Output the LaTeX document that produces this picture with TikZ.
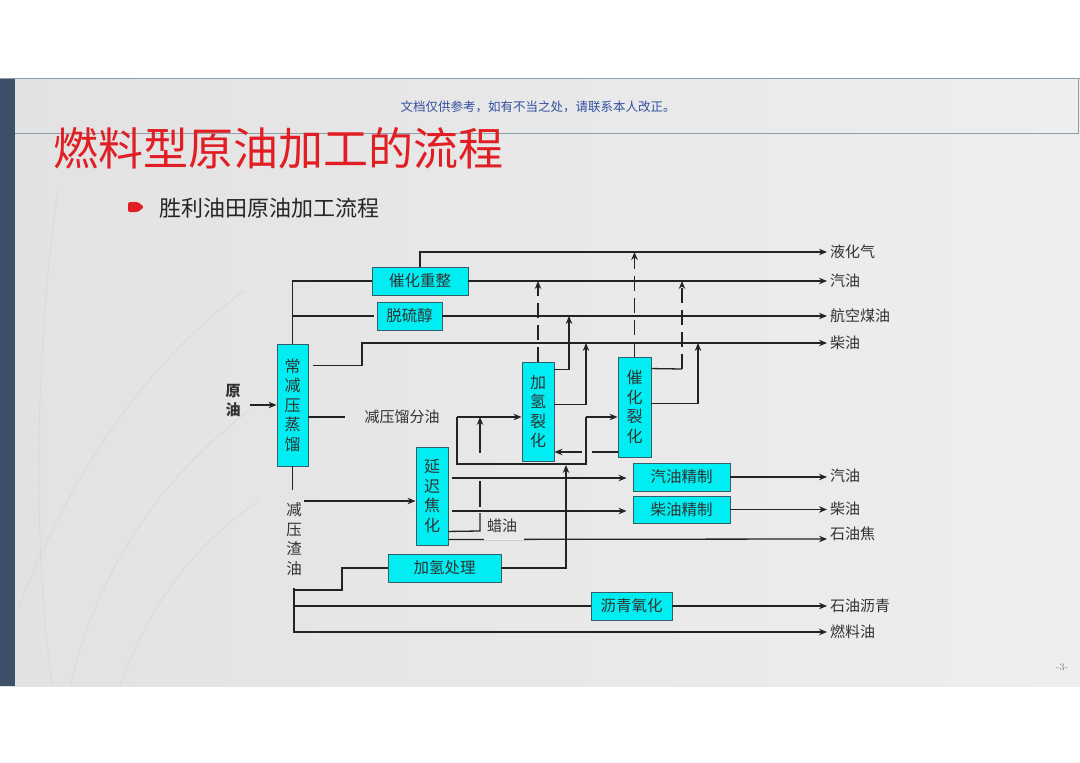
\documentclass[tikz,border=0pt]{standalone}
\usepackage{fontspec}
\newfontfamily\cjk{Noto Sans CJK SC}
\usetikzlibrary{arrows.meta,calc}
\definecolor{bxf}{RGB}{0,238,242}
\definecolor{bxb}{RGB}{50,95,105}
\definecolor{lnc}{RGB}{35,35,35}
\definecolor{txt}{RGB}{50,50,50}
\definecolor{ttl}{RGB}{225,30,35}
\definecolor{wm}{RGB}{50,80,160}
\definecolor{barc}{RGB}{62,80,104}
\definecolor{hdr}{RGB}{140,158,170}
\definecolor{bgl}{RGB}{226,226,226}
\definecolor{bgm}{RGB}{248,248,248}
\definecolor{bgr}{RGB}{238,238,238}
\begin{document}
\begin{tikzpicture}[x=1pt,y=-1pt,
  box/.style={draw=bxb, fill=bxf, line width=0.9pt, inner sep=0pt, text=txt, font=\cjk\fontsize{15.5}{19}\selectfont},
  vbox/.style={box, align=center, font=\cjk\fontsize{16}{19.5}\selectfont},
  ln/.style={draw=lnc, line width=1.3pt},
  arr/.style={ln, -{Stealth[length=8pt,width=6.5pt]}},
  dsh/.style={dash pattern=on 15pt off 7pt},
  lab/.style={text=txt, font=\cjk\fontsize{15}{18}\selectfont, inner sep=1pt},
  outlbl/.style={lab, anchor=west},
  decor/.style={draw=gray!30, line width=0.8pt}]
% background
\fill[white] (0,0) rectangle (1080,763);
\useasboundingbox (0,0) rectangle (1080,763);
\shade[left color=bgl, middle color=bgm, right color=bgr] (0,78) rectangle (1080,686);
\draw[decor] (58,190) .. controls (38,330) and (30,520) .. (52,686);
\draw[decor] (18,610) .. controls (70,470) and (150,360) .. (245,290);
\draw[decor] (70,686) .. controls (100,560) and (170,470) .. (250,410);
\draw[decor] (120,686) .. controls (150,600) and (200,540) .. (260,500);
\fill[barc] (0,78) rectangle (15,686);
\draw[hdr, line width=1pt] (0,78) -- (1080,78);
\draw[hdr, line width=1pt] (15,133) -- (1078,133) -- (1078,78);
% header texts
\node[text=wm, font=\cjk\fontsize{12.5}{14}\selectfont] (wmk) at (538,107) {文档仅供参考，如有不当之处，请联系本人改正。};
\node[anchor=west, text=ttl, inner sep=0pt, font=\cjk\fontsize{45}{50}\selectfont] (title) at (53,148) {燃料型原油加工的流程};
\fill[ttl, rounded corners=1.5pt] (128,202) -- (138,202) -- (144,207) -- (138,212) -- (128,212) -- cycle;
\node[anchor=west, text=black!85, inner sep=0pt, font=\cjk\fontsize{22}{24}\selectfont] (sub) at (159,208) {胜利油田原油加工流程};
\node[text=gray, font=\fontsize{10}{12}\selectfont] (pg) at (1062,667) {-3-};
% boxes
\node[vbox, minimum width=31pt, minimum height=122pt] (zl) at (292.5,405) {常\\减\\压\\蒸\\馏};
\node[box, minimum width=96pt, minimum height=28pt] (czz) at (420,281) {催化重整};
\node[box, minimum width=65pt, minimum height=28pt] (tlc) at (409.5,316) {脱硫醇};
\node[vbox, minimum width=32pt, minimum height=99pt] (jql) at (538,411.5) {加\\氢\\裂\\化};
\node[vbox, minimum width=33pt, minimum height=100pt] (chl) at (634.5,407) {催\\化\\裂\\化};
\node[vbox, minimum width=32pt, minimum height=98pt] (ycj) at (432,496) {延\\迟\\焦\\化};
\node[box, minimum width=113pt, minimum height=28pt] (jqc) at (444.5,568) {加氢处理};
\node[box, minimum width=97pt, minimum height=28pt] (qyj) at (681.5,477) {汽油精制};
\node[box, minimum width=97pt, minimum height=27pt] (cyj) at (681.5,509.5) {柴油精制};
\node[box, minimum width=81pt, minimum height=28pt] (lqy) at (631.5,606) {沥青氧化};
% end coordinates
\coordinate (e1) at (827,252);
\coordinate (e2) at (827,281);
\coordinate (e3) at (827,316);
\coordinate (e4) at (827,343);
\coordinate (e5) at (827,477);
\coordinate (e6) at (827,509.5);
\coordinate (e7) at (827,539);
\coordinate (e8) at (827,606);
\coordinate (e9) at (827,632);
% top outputs
\draw[arr] (czz.north) |- (e1);
\draw[ln] (zl.north) |- (czz.west);
\draw[arr] (czz.east) -- (e2);
\draw[ln] (zl.north |- tlc.west) -- ([xshift=-3pt]tlc.west);
\draw[arr] (tlc.east) -- (e3);
\draw[arr] ($(zl.north east)+(5,22)$) -| (362,343) -- (e4);
% vacuum distillate
\draw[ln] ($(zl.east)+(0,12)$) -- ++(37,0);
\node[lab] (jyl) at (402,417) {减压馏分油};
\coordinate (la) at (457,417);
\coordinate (lb) at (457,464);
\coordinate (lc) at (586,464);
\coordinate (ld) at (586,417);
\draw[ln] (la) -- (lb) -- (lc) -- (ld);
\draw[arr] (la) -- (la -| jql.west);
\draw[arr] (ld) -- (ld -| chl.west);
% recycle FCC -> HC
\coordinate (r1) at (0,452);
\draw[ln] (chl.west |- r1) -- (592,452);
\draw[arr] (582,452) -- (jql.east |- r1);
% hydrocracking outputs
\draw[arr,dsh] (jql.north) -- (jql.north |- e2);
\draw[arr] ($(jql.north east)+(0,8)$) -| (569,316);
\draw[arr] ($(jql.north east)+(0,43)$) -| (586,343);
% FCC outputs
\draw[arr,dsh] (chl.north) -- (chl.north |- e1);
\draw[ln] ($(chl.north east)+(0,12)$) -- (682,369);
\draw[arr,dsh] (682,369) -- (682,281);
\draw[arr] ($(chl.north east)+(0,47)$) -| (698,343);
% vacuum residue
\draw[ln] (zl.south) -- ++(0,24);
\node[lab, align=center, font=\cjk\fontsize{15.5}{19.5}\selectfont] (jzy) at (294,539) {减\\压\\渣\\油};
\draw[arr] (304,501) -- ($(ycj.west)+(0,5)$);
% coking outputs
\draw[arr, shorten >=6pt] ($(ycj.east)+(4,-18)$) -- ($(qyj.west)+(0,1)$);
\draw[arr, shorten >=6pt] ($(ycj.east)+(4,15)$) -- ($(cyj.west)+(0,1.5)$);
\draw[arr] ($(ycj.south east)+(0,-6)$) -- (e7);
\draw[white!92!lnc, line width=1.6pt] (484,539) -- (524,539);
\draw[ln] ($(ycj.south east)+(0,-14)$) -- (480,531) -- (480,513);
\draw[ln] (480,507) -- (480,481);
\draw[arr] (480,453) -- (480,417);
\node[lab] (lay) at (502,526) {蜡油};
% hydrotreating
\draw[arr] (jqc.east) -| (566,465);
\draw[arr] (294,588) |- (e9);
\draw[ln] (294,590) -| (342,568) -- (jqc.west);
\draw[ln] (294,606) -- (lqy.west);
\draw[arr] (lqy.east) -- (e8);
% refining outputs
\draw[arr] (qyj.east) -- (e5);
\draw[arr] (cyj.east) -- (e6);
% crude
\draw[arr] (250,405) -- (zl.west);
\node[lab, align=center, font=\cjk\bfseries\fontsize{15}{19}\selectfont] (yy) at (233,401) {原\\油};
% output labels
\node[outlbl] (o1) at (829,252) {液化气};
\node[outlbl] (o2) at (829,281) {汽油};
\node[outlbl] (o3) at (829,316) {航空煤油};
\node[outlbl] (o4) at (829,343) {柴油};
\node[outlbl] (o5) at (829,476) {汽油};
\node[outlbl] (o6) at (829,509) {柴油};
\node[outlbl] (o7) at (829,534) {石油焦};
\node[outlbl] (o8) at (829,606) {石油沥青};
\node[outlbl] (o9) at (829,632) {燃料油};
\end{tikzpicture}
\end{document}
